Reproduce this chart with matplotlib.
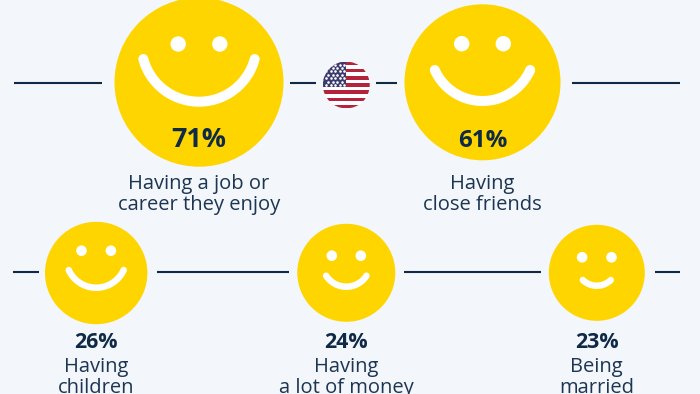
import numpy as np
import matplotlib
matplotlib.use('Agg')
import matplotlib.pyplot as plt
from matplotlib.patches import Circle

plt.rcParams['font.family'] = ['Open Sans', 'DejaVu Sans']

# data
values = [71, 61, 26, 24, 23]
labels = ['Having a job or\ncareer they enjoy', 'Having\nclose friends', 'Having\nchildren',
          'Having\na lot of money', 'Being\nmarried']

# face layout, all in reference pixels
face_x = [199, 482.5, 96.2, 346.3, 596.8]
face_y = [82.2, 82.3, 273, 272.8, 272.8]
face_r = [84.5, 78, 51.2, 49, 48]
eye_dx = [20.8, 20.8, 14.7, 14.5, 14.7]
eye_y = [44, 43.7, 250.7, 255.7, 257.3]
eye_r = [7.7, 7.7, 5.3, 5.3, 5.3]
smile_w = [55.7, 47.7, 27.5, 20.2, 14]
smile_top = [59, 70, 270, 275.7, 280]
smile_bot = [101.7, 101, 287.7, 286.7, 285.7]
smile_lw = [10, 10, 6.5, 6.5, 6.5]
value_y = [139.5, 140.5, 342, 342, 342]
value_size = [19.4, 17.4, 15.4, 15.4, 15.4]
label_y = [194.5, 194.5, 377.5, 377.5, 377.5]

# connecting rules: y, x0, x1
rules = [(82.5, 14, 102), (82.5, 290, 316), (82.5, 376, 397), (82.5, 572, 680),
         (272, 13, 39), (272, 157, 289), (272, 404, 541), (272, 655, 680)]

BG = '#f3f6fa'
YELLOW = '#ffd500'
NAVY = '#0f2a47'
TEXT = '#1c3553'
RED = '#b3243c'
BLUE = '#3c3b6e'

fig = plt.figure(figsize=(7, 3.94), dpi=100, facecolor=BG)
ax = fig.add_axes([0, 0, 1, 1])
ax.set_xlim(0, 700)
ax.set_ylim(394, 0)
ax.axis('off')

for y, x0, x1 in rules:
    ax.plot([x0, x1], [y, y], color=NAVY, lw=1.5, solid_capstyle='butt')

for i in range(len(values)):
    cx, cy = face_x[i], face_y[i]
    ax.add_patch(Circle((cx, cy), face_r[i], fc=YELLOW, ec='none'))
    for sign in (-1, 1):
        ax.add_patch(Circle((cx + sign * eye_dx[i], eye_y[i]), eye_r[i], fc='white', ec='none'))

    # smile is a circular arc through both ends and the lowest point
    w = smile_w[i]
    sag = smile_bot[i] - smile_top[i]
    R = (w**2 + sag**2) / (2 * sag)
    half = np.arctan2(w, R - sag)
    t = np.linspace(-half, half, 80)
    ax.plot(cx + R * np.sin(t), smile_bot[i] - R + R * np.cos(t),
            color='white', lw=smile_lw[i] * 0.72, solid_capstyle='round')

    ax.text(cx, value_y[i], f'{values[i]}%', ha='center', va='center', color=NAVY,
            fontsize=value_size[i], fontweight='bold')
    ax.text(cx, label_y[i], labels[i], ha='center', va='center', color=TEXT,
            fontsize=14.5, linespacing=1.08)

# flag
flag_x, flag_y, flag_r = 346.3, 85, 23.4
clip = Circle((flag_x, flag_y), flag_r, transform=ax.transData)
stripe_h = 2 * flag_r / 13
top = flag_y - flag_r
for k in range(13):
    c = RED if k % 2 == 0 else 'white'
    b = ax.bar(flag_x, stripe_h, width=2 * flag_r, bottom=top + k * stripe_h, color=c, lw=0)
    b[0].set_clip_path(clip)
b = ax.bar(flag_x - flag_r / 2, 7 * stripe_h, width=flag_r, bottom=top, color=BLUE, lw=0)
b[0].set_clip_path(clip)
star_x, star_y = [], []
for row in range(7):
    for col in range(5 if row % 2 == 0 else 4):
        star_x.append(flag_x - flag_r + 3 + col * 4.6 + (0 if row % 2 == 0 else 2.3))
        star_y.append(top + 3 + row * 3.4)
s = ax.scatter(star_x, star_y, s=3.5, color='white', lw=0)
s.set_clip_path(clip)

fig.savefig('out.png', dpi=100, facecolor=BG)
